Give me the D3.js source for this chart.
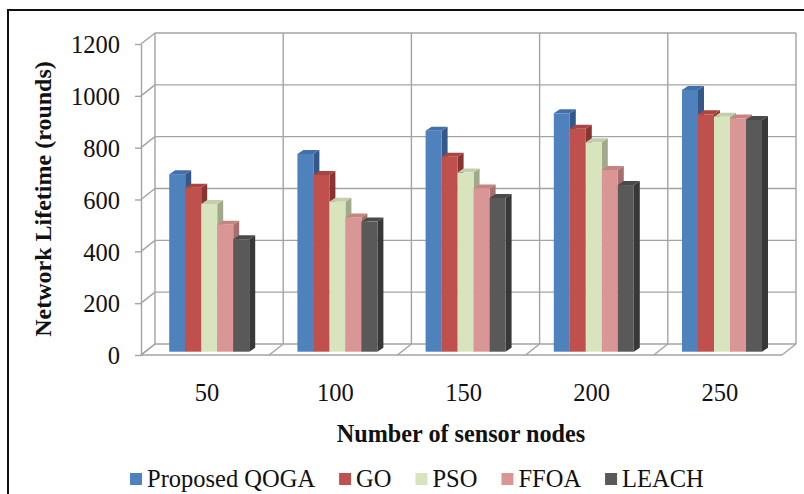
<!DOCTYPE html>
<html>
<head>
<meta charset="utf-8">
<script src="https://cdn.jsdelivr.net/npm/d3@7"></script>
<style>
  html, body { margin: 0; padding: 0; background: #fff; }
  svg { display: block; font-family: "Liberation Serif", "Times New Roman", serif; }
</style>
</head>
<body>
<svg id="chart" width="804" height="494"></svg>
<script>
// Network lifetime (rounds) per number of sensor nodes
const categories = ["50", "100", "150", "200", "250"];
const seriesNames = ["Proposed QOGA", "GO", "PSO", "FFOA", "LEACH"];
const qoga  = [685, 763, 853, 920, 1010];
const go    = [633, 682, 752, 860, 916];
const pso   = [570, 579, 691, 808, 907];
const ffoa  = [490, 518, 630, 701, 900];
const leach = [434, 502, 593, 643, 894];
const yTicks = [0, 200, 400, 600, 800, 1000, 1200];

const seriesValues = [qoga, go, pso, ffoa, leach];
const frontColors = ["#4F81BD", "#C0504D", "#D7E4BD", "#D99694", "#595959"];
const topColors   = ["#4470A8", "#A94440", "#C3CFAA", "#C58482", "#4A4A4A"];
const sideColors  = ["#345889", "#8A3431", "#A0AA8A", "#A56F6D", "#383838"];

const svg = d3.select("#chart");
const gridColor = "#a3a3a3";
const labelSize = 24.5;

// outer frame
svg.append("rect")
  .attr("x", 8).attr("y", 10).attr("width", 820).attr("height", 510)
  .attr("fill", "#fff").attr("stroke", "#111").attr("stroke-width", 2);

// front plane scales
const x0 = d3.scaleBand().domain(categories).range([141, 782]);
const x1 = d3.scaleBand().domain(seriesNames).range([24, 104]);
const y = d3.scaleLinear().domain([0, 1200]).range([355, 44]);

// depth offsets: full wall depth, bar plane, bar thickness
const wall = { dx: 14, dy: -11 };
const plane = { dx: 4.2, dy: -3.3 };
const bar = { dx: 6, dy: -4 };

const grid = svg.append("g").attr("fill", "none").attr("stroke", gridColor).attr("stroke-width", 1.4);
const xL = x0.range()[0], xR = x0.range()[1];

// back wall horizontal gridlines and left wall diagonals
yTicks.forEach(v => {
  grid.append("line")
    .attr("x1", xL + wall.dx).attr("x2", xR + wall.dx)
    .attr("y1", y(v) + wall.dy).attr("y2", y(v) + wall.dy);
  grid.append("line")
    .attr("x1", xL).attr("y1", y(v))
    .attr("x2", xL + wall.dx).attr("y2", y(v) + wall.dy);
});

// back wall vertical gridlines and floor dividers at category boundaries
const bounds = categories.map(c => x0(c)).concat([xR]);
bounds.forEach(bx => {
  grid.append("line")
    .attr("x1", bx + wall.dx).attr("x2", bx + wall.dx)
    .attr("y1", y(0) + wall.dy).attr("y2", y(1200) + wall.dy);
  grid.append("line")
    .attr("x1", bx).attr("y1", y(0))
    .attr("x2", bx + wall.dx).attr("y2", y(0) + wall.dy);
});

// floor front edge
grid.append("line")
  .attr("x1", xL).attr("x2", xR)
  .attr("y1", y(0)).attr("y2", y(0));

// value axis on the front-left edge
const yAxis = svg.append("g")
  .attr("transform", `translate(${xL},0)`)
  .call(d3.axisLeft(y).tickValues(yTicks).tickFormat(d3.format("d"))
    .tickSize(6).tickSizeOuter(0).tickPadding(15));
yAxis.select(".domain").attr("stroke", gridColor).attr("stroke-width", 1.4);
yAxis.selectAll(".tick line").attr("stroke", gridColor).attr("stroke-width", 1.4);
yAxis.selectAll(".tick text")
  .attr("font-family", "Liberation Serif, Times New Roman, serif")
  .attr("font-size", labelSize).attr("fill", "#111").attr("dy", "0.36em");

// 3D columns
const bars = svg.append("g");
categories.forEach((c, ci) => {
  seriesNames.forEach((s, si) => {
    const v = seriesValues[si][ci];
    const xa = x0(c) + x1(s) + plane.dx;
    const xb = xa + x1.bandwidth();
    const yt = y(v) + plane.dy;
    const yb = y(0) + plane.dy;
    const g = bars.append("g");
    // side face
    g.append("polygon")
      .attr("points", [[xb, yt], [xb + bar.dx, yt + bar.dy], [xb + bar.dx, yb + bar.dy], [xb, yb]].join(" "))
      .attr("fill", sideColors[si]);
    // top face
    g.append("polygon")
      .attr("points", [[xa, yt], [xa + bar.dx, yt + bar.dy], [xb + bar.dx, yt + bar.dy], [xb, yt]].join(" "))
      .attr("fill", topColors[si]);
    // front face
    g.append("rect")
      .attr("x", xa).attr("y", yt)
      .attr("width", x1.bandwidth()).attr("height", yb - yt)
      .attr("fill", frontColors[si]);
  });
});

// category labels
svg.append("g").selectAll("text").data(categories).join("text")
  .attr("x", d => x0(d) + x0.bandwidth() / 2 + 2)
  .attr("y", 400.5)
  .attr("text-anchor", "middle")
  .attr("font-size", labelSize).attr("fill", "#111")
  .text(d => d);

// axis titles
svg.append("text")
  .attr("x", 461).attr("y", 441.5)
  .attr("text-anchor", "middle")
  .attr("font-size", 24.2).attr("font-weight", "bold").attr("fill", "#111")
  .text("Number of sensor nodes");

svg.append("text")
  .attr("transform", "translate(51,199) rotate(-90)")
  .attr("text-anchor", "middle")
  .attr("font-size", 24).attr("font-weight", "bold").attr("fill", "#111")
  .text("Network Lifetime (rounds)");

// legend
const legend = svg.append("g");
let lx = 130;
seriesNames.forEach((s, si) => {
  legend.append("rect")
    .attr("x", lx).attr("y", 473).attr("width", 12).attr("height", 12)
    .attr("fill", frontColors[si]);
  const t = legend.append("text")
    .attr("x", lx + 17).attr("y", 486.5)
    .attr("font-size", labelSize).attr("fill", "#111")
    .text(s);
  lx += 17 + t.node().getComputedTextLength() + 24;
});
</script>
</body>
</html>
